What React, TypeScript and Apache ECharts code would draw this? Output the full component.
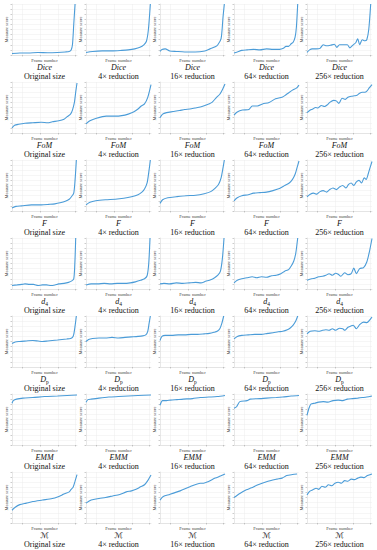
import React, { useEffect, useRef } from "react";
import * as echarts from "echarts";

// Row labels (metrics, as rich text with subscripts) and column labels (image sizes)
const metricNames = ["{i|Dice}", "{i|FoM}", "{i|F}", "{i|d}{s|4}", "{i|D}{s|p}", "{i|EMM}", "{c|ℳ}"];
const sizeNames = ["Original size", "4× reduction", "16× reduction", "64× reduction", "256× reduction"];
const xAxisName = "Frame number";
const yAxisName = "Measure score";

// Each curve: [frame position (% of sequence), normalised measure score]
const diceCurves = [
  [[0,0.03],[12,0.04],[25,0.04],[40,0.05],[55,0.045],[70,0.05],[82,0.06],[88,0.07],[91,0.1],[93,0.2],[95,0.6],[97,1]],
  [[0,0.05],[10,0.07],[25,0.08],[40,0.08],[55,0.09],[65,0.1],[75,0.12],[83,0.15],[89,0.2],[93,0.27],[96,0.5],[99,1]],
  [[0,0.07],[3,0.11],[8,0.12],[15,0.08],[25,0.07],[38,0.06],[54,0.06],[69,0.08],[77,0.12],[85,0.16],[89,0.2],[94,0.32],[97,0.75],[99,1]],
  [[0,0.04],[5,0.06],[12,0.09],[20,0.1],[30,0.11],[40,0.1],[50,0.12],[60,0.11],[70,0.11],[76,0.13],[80,0.17],[84,0.17],[88,0.22],[91,0.25],[94,0.35],[96,0.55],[98,1]],
  [[0,0.05],[4,0.1],[8,0.12],[14,0.12],[20,0.13],[25,0.2],[30,0.18],[36,0.19],[42,0.21],[46,0.15],[50,0.2],[56,0.2],[62,0.2],[66,0.14],[71,0.2],[75,0.24],[78,0.32],[81,0.2],[85,0.3],[89,0.28],[92,0.3],[95,0.5],[98,1]],
];
const fomCurves = [
  [[0,0.1],[4,0.15],[10,0.17],[20,0.19],[32,0.2],[45,0.21],[55,0.2],[62,0.22],[72,0.24],[80,0.27],[85,0.32],[90,0.37],[93,0.45],[96,0.6],[98,0.8],[100,0.98]],
  [[0,0.18],[6,0.24],[16,0.29],[31,0.33],[45,0.33],[55,0.34],[65,0.37],[73,0.41],[80,0.47],[85,0.53],[90,0.57],[95,0.7],[100,0.95]],
  [[0,0.3],[4,0.37],[10,0.4],[20,0.42],[30,0.44],[38,0.46],[46,0.47],[54,0.49],[62,0.51],[69,0.54],[75,0.57],[80,0.6],[87,0.7],[92,0.76],[96,0.85],[100,0.96]],
  [[0,0.35],[5,0.41],[13,0.45],[23,0.46],[28,0.53],[36,0.53],[44,0.57],[54,0.6],[64,0.67],[74,0.7],[80,0.75],[90,0.84],[96,0.88],[100,0.94]],
  [[0,0.4],[5,0.45],[9,0.47],[13,0.5],[17,0.49],[22,0.54],[27,0.52],[31,0.55],[35,0.6],[41,0.64],[45,0.63],[49,0.58],[54,0.68],[59,0.66],[63,0.7],[68,0.72],[73,0.73],[77,0.74],[81,0.78],[85,0.8],[89,0.8],[92,0.82],[96,0.89],[100,0.95]],
];
const fCurves = [
  [[0,0.06],[6,0.09],[15,0.1],[30,0.12],[45,0.12],[57,0.13],[66,0.14],[74,0.16],[82,0.19],[88,0.23],[92,0.29],[95,0.35],[97,0.6],[99,1]],
  [[0,0.12],[6,0.17],[15,0.2],[30,0.22],[45,0.23],[58,0.25],[70,0.28],[80,0.32],[86,0.37],[90,0.43],[94,0.55],[97,0.8],[99,1]],
  [[0,0.15],[4,0.22],[12,0.26],[25,0.28],[40,0.3],[55,0.31],[68,0.34],[78,0.38],[85,0.45],[90,0.52],[94,0.65],[97,0.85],[99,1]],
  [[0,0.2],[5,0.26],[12,0.3],[22,0.32],[30,0.35],[40,0.36],[50,0.37],[60,0.4],[70,0.44],[78,0.5],[85,0.55],[90,0.62],[94,0.72],[97,0.85],[100,0.98]],
  [[0,0.28],[5,0.33],[10,0.35],[15,0.33],[20,0.38],[25,0.4],[30,0.37],[35,0.42],[40,0.45],[45,0.42],[50,0.47],[55,0.5],[60,0.45],[64,0.52],[68,0.55],[72,0.5],[76,0.57],[80,0.6],[84,0.55],[88,0.65],[91,0.62],[94,0.72],[97,0.85],[100,0.97]],
];
const d4Curves = [
  [[0,0.07],[8,0.08],[15,0.09],[20,0.1],[27,0.09],[33,0.09],[40,0.07],[47,0.08],[53,0.08],[60,0.07],[66,0.08],[72,0.1],[80,0.11],[87,0.13],[92,0.16],[95,0.2],[96.5,0.45],[98,1]],
  [[0,0.08],[8,0.1],[18,0.1],[28,0.11],[38,0.1],[48,0.11],[58,0.11],[68,0.12],[76,0.14],[84,0.17],[90,0.2],[94,0.26],[96.5,0.5],[98.5,1]],
  [[0,0.1],[6,0.11],[15,0.1],[25,0.12],[35,0.11],[45,0.12],[55,0.13],[63,0.12],[70,0.15],[78,0.18],[84,0.22],[89,0.27],[93,0.35],[96,0.6],[98.5,1]],
  [[0,0.12],[5,0.17],[12,0.2],[20,0.22],[28,0.24],[35,0.22],[42,0.24],[50,0.23],[58,0.26],[65,0.27],[72,0.3],[78,0.35],[84,0.38],[88,0.45],[92,0.55],[95,0.7],[98,1]],
  [[0,0.17],[7,0.2],[12,0.21],[18,0.24],[24,0.25],[29,0.27],[34,0.3],[39,0.27],[44,0.31],[48,0.29],[52,0.25],[58,0.32],[63,0.28],[68,0.3],[72,0.41],[76,0.3],[81,0.4],[87,0.42],[92,0.53],[96,0.73],[100,0.99]],
];
const dpCurves = [
  [[0,0.46],[5,0.49],[12,0.5],[22,0.51],[32,0.52],[40,0.51],[47,0.5],[55,0.51],[62,0.52],[70,0.53],[77,0.54],[84,0.55],[90,0.56],[93,0.58],[95,0.64],[97,0.8],[99,1]],
  [[0,0.5],[4,0.54],[10,0.56],[20,0.57],[30,0.57],[40,0.58],[50,0.57],[60,0.58],[70,0.59],[80,0.6],[87,0.61],[92,0.63],[95,0.7],[97,0.85],[99,1]],
  [[0,0.52],[3,0.6],[8,0.62],[18,0.62],[28,0.63],[38,0.63],[48,0.64],[58,0.64],[68,0.65],[76,0.66],[83,0.68],[88,0.7],[92,0.75],[95,0.85],[98,1]],
  [[0,0.55],[5,0.6],[12,0.62],[22,0.63],[32,0.64],[42,0.64],[52,0.66],[60,0.67],[68,0.69],[75,0.7],[82,0.73],[87,0.77],[91,0.82],[95,0.9],[98,1]],
  [[0,0.65],[5,0.7],[12,0.71],[18,0.7],[24,0.72],[29,0.73],[34,0.72],[39,0.75],[44,0.72],[50,0.76],[55,0.75],[58,0.72],[63,0.78],[67,0.8],[71,0.82],[76,0.75],[81,0.83],[87,0.88],[92,0.87],[97,0.93],[100,0.98]],
];
const emmCurves = [
  [[0,0.82],[2,0.87],[7,0.9],[17,0.92],[32,0.93],[50,0.95],[70,0.96],[85,0.97],[100,0.98]],
  [[0,0.84],[3,0.89],[8,0.9],[20,0.92],[35,0.94],[50,0.95],[65,0.96],[80,0.97],[100,0.98]],
  [[0,0.78],[4,0.87],[10,0.87],[16,0.88],[26,0.89],[36,0.9],[50,0.91],[62,0.93],[75,0.94],[88,0.95],[100,0.97]],
  [[0,0.72],[4,0.75],[9,0.85],[20,0.87],[25,0.9],[40,0.91],[50,0.92],[65,0.93],[75,0.94],[88,0.96],[100,0.97]],
  [[0,0.58],[3,0.72],[6,0.8],[12,0.82],[18,0.84],[25,0.85],[32,0.84],[40,0.87],[48,0.88],[55,0.87],[62,0.9],[70,0.91],[78,0.92],[85,0.93],[92,0.94],[100,0.96]],
];
const mCurves = [
  [[0,0.25],[5,0.31],[12,0.36],[22,0.39],[32,0.42],[47,0.45],[62,0.48],[70,0.51],[77,0.55],[82,0.58],[88,0.61],[91,0.66],[94,0.7],[97,0.82],[100,0.95]],
  [[0,0.39],[8,0.45],[20,0.48],[30,0.5],[41,0.53],[52,0.56],[62,0.61],[70,0.63],[77,0.66],[84,0.71],[90,0.75],[95,0.83],[100,0.94]],
  [[0,0.45],[5,0.52],[15,0.56],[31,0.63],[46,0.71],[62,0.78],[67,0.78],[74,0.81],[85,0.88],[93,0.92],[100,0.96]],
  [[0,0.5],[9,0.58],[19,0.65],[27,0.69],[35,0.74],[50,0.81],[66,0.86],[74,0.88],[81,0.93],[90,0.95],[97,0.96]],
  [[0,0.55],[4,0.62],[9,0.65],[14,0.68],[18,0.66],[23,0.72],[28,0.7],[33,0.75],[38,0.73],[43,0.78],[48,0.8],[53,0.78],[58,0.83],[63,0.82],[68,0.86],[73,0.85],[78,0.88],[83,0.9],[88,0.89],[93,0.93],[100,0.96]],
];
const allRows = [diceCurves, fomCurves, fCurves, d4Curves, dpCurves, emmCurves, mCurves];
const xGridTicks = [15, 43, 71, 98];

const LINE = "#4b9cd8";
const SERIF = "'Liberation Serif', 'DejaVu Serif', serif";

export default function App() {
  const ref = useRef<HTMLDivElement>(null);
  useEffect(() => {
    if (!ref.current) return;
    const chart = echarts.init(ref.current, undefined, { renderer: "svg" });
    const grids: any[] = [];
    const xAxes: any[] = [];
    const yAxes: any[] = [];
    const series: any[] = [];
    const graphics: any[] = [];
    const colLeft = [12, 86, 160, 234, 307];
    const W = 65, H = 51;
    allRows.forEach((row, i) => {
      const top = 4 + 78 * i;
      row.forEach((curve, j) => {
        const idx = grids.length;
        grids.push({ left: colLeft[j], top, width: W, height: H, containLabel: false });
        xAxes.push({
          type: "value", gridIndex: idx, min: 0, max: 100,
          name: xAxisName, nameLocation: "middle", nameGap: 3,
          nameTextStyle: { fontSize: 4.5, color: "#444", fontFamily: SERIF },
          axisLine: { show: true, lineStyle: { color: "#d8d8d8", width: 0.6 } },
          axisTick: { show: true, length: 1.5, lineStyle: { color: "#999", width: 0.5 }, customValues: xGridTicks },
          axisLabel: { show: false, customValues: xGridTicks },
          splitLine: { show: true, lineStyle: { color: "#ececec", width: 0.5 } },
        });
        yAxes.push({
          type: "value", gridIndex: idx, min: 0, max: 1, interval: 0.1,
          name: yAxisName, nameLocation: "middle", nameGap: 3,
          nameTextStyle: { fontSize: 4.5, color: "#444", fontFamily: SERIF },
          axisLine: { show: true, lineStyle: { color: "#d8d8d8", width: 0.6 } },
          axisTick: { show: true, length: 1.5, lineStyle: { color: "#999", width: 0.5 } },
          axisLabel: { show: false },
          splitLine: { show: true, lineStyle: { color: "#ececec", width: 0.5 } },
        });
        series.push({
          type: "line", xAxisIndex: idx, yAxisIndex: idx, data: curve,
          showSymbol: false, smooth: 0.25,
          lineStyle: { color: LINE, width: 1.1 },
        });
        const cx = colLeft[j] + W / 2;
        graphics.push({
          type: "text", x: cx, y: top + H + 12.5,
          style: {
            text: metricNames[i], textAlign: "center", textVerticalAlign: "middle", fill: "#111",
            fontSize: 8, fontFamily: SERIF,
            rich: {
              i: { fontSize: 8, fontStyle: "italic", fontFamily: SERIF, fill: "#111" },
              s: { fontSize: 5.5, fontFamily: SERIF, fill: "#111", padding: [5, 0, 0, 0] },
              c: { fontSize: 8, fontFamily: "'DejaVu Sans', serif", fill: "#111" },
            },
          },
        });
        graphics.push({
          type: "text", x: cx, y: top + H + 21,
          style: {
            text: sizeNames[j], textAlign: "center", textVerticalAlign: "middle", fill: "#111",
            font: "8px 'Liberation Serif', serif", fontSize: 8, fontFamily: SERIF,
          },
        });
      });
    });
    chart.setOption({
      animation: false,
      backgroundColor: "#ffffff",
      grid: grids,
      xAxis: xAxes,
      yAxis: yAxes,
      series,
      graphic: graphics,
    });
    return () => chart.dispose();
  }, []);
  return <div ref={ref} style={{ position: "absolute", left: 0, top: 0, width: 377, height: 550 }} />;
}
